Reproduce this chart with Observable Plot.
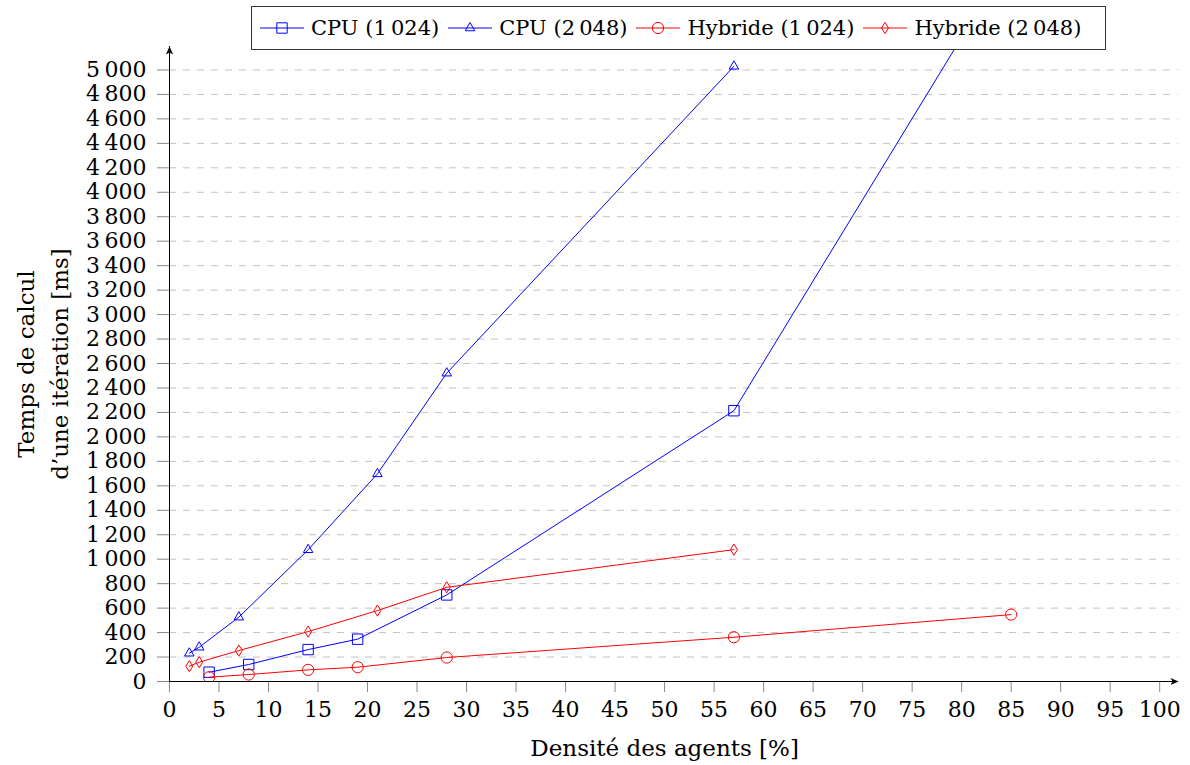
<!DOCTYPE html>
<html>
<head>
<meta charset="utf-8">
<script src="https://cdn.jsdelivr.net/npm/d3@7"></script>
<script src="https://cdn.jsdelivr.net/npm/@observablehq/plot@0.6"></script>
<style>
  body { margin: 0; background: white; }
  #wrap { position: relative; width: 1190px; height: 765px; background: white; font-family: "DejaVu Serif", serif; }
  #legend { position: absolute; left: 251px; top: 6px; width: 845px; height: 42px; border: 1.3px solid #333; background: white;
            display: flex; align-items: center; font-size: 21px; color: black; box-sizing: content-box; }
  .item { display: flex; align-items: center; }
  .item svg { margin-right: 7px; }
  .item span { margin-right: 9px; white-space: nowrap; }
</style>
</head>
<body>
<div id="wrap"><div id="legend"></div></div>
<script>
// ---- data ----
const xTicks = [0, 5, 10, 15, 20, 25, 30, 35, 40, 45, 50, 55, 60, 65, 70, 75, 80, 85, 90, 95, 100];
const yTicks = [0, 200, 400, 600, 800, 1000, 1200, 1400, 1600, 1800, 2000, 2200, 2400, 2600, 2800, 3000,
                3200, 3400, 3600, 3800, 4000, 4200, 4400, 4600, 4800, 5000];

const seriesNames = ["CPU (1\u2009024)", "CPU (2\u2009048)", "Hybride (1\u2009024)", "Hybride (2\u2009048)"];

const densCPU1024 = [4, 8, 14, 19, 28, 57, 85];
const timeCPU1024 = [76, 139, 261, 346, 708, 2214, 5930];
const densCPU2048 = [2, 3, 7, 14, 21, 28, 57];
const timeCPU2048 = [231, 280, 526, 1077, 1698, 2521, 5030];
const densHyb1024 = [4, 8, 14, 19, 28, 57, 85];
const timeHyb1024 = [35, 57, 95, 117, 196, 362, 547];
const densHyb2048 = [2, 3, 7, 14, 21, 28, 57];
const timeHyb2048 = [125, 158, 253, 408, 580, 770, 1078];

const xLabel = "Densité des agents [%]";
const yLabel1 = "Temps de calcul";
const yLabel2 = "d\u2019une itération [ms]";

// ---- symbols ----
const rOf = s => Math.sqrt(s / Math.PI);
const symSquare = { draw(c, s) { const r = rOf(s); c.moveTo(-r, -r); c.lineTo(r, -r); c.lineTo(r, r); c.lineTo(-r, r); c.closePath(); } };
const symTriangle = { draw(c, s) { const r = rOf(s); c.moveTo(0, -r); c.lineTo(0.866 * r, 0.5 * r); c.lineTo(-0.866 * r, 0.5 * r); c.closePath(); } };
const symCircle = { draw(c, s) { const r = rOf(s); c.moveTo(r, 0); c.arc(0, 0, r, 0, 2 * Math.PI); c.closePath(); } };
const symDiamond = { draw(c, s) { const r = rOf(s); c.moveTo(0, -r); c.lineTo(0.62 * r, 0); c.lineTo(0, r); c.lineTo(-0.62 * r, 0); c.closePath(); } };
const symArrow = { draw(c, s) { c.moveTo(0, 0); c.lineTo(3.6, 8); c.lineTo(0, 6); c.lineTo(-3.6, 8); c.closePath(); } };

const series = [
  { name: seriesNames[0], x: densCPU1024, y: timeCPU1024, color: "#0000ff", sym: symSquare, r: 5.2 },
  { name: seriesNames[1], x: densCPU2048, y: timeCPU2048, color: "#0000ff", sym: symTriangle, r: 5.5 },
  { name: seriesNames[2], x: densHyb1024, y: timeHyb1024, color: "#ff0000", sym: symCircle, r: 5.6 },
  { name: seriesNames[3], x: densHyb2048, y: timeHyb2048, color: "#ff0000", sym: symDiamond, r: 5.6 }
];
const rows = s => s.x.map((d, i) => ({ x: d, y: s.y[i] }));

const xMax = 101.9, yMax = 5192;
const fmt = n => n >= 1000 ? `${Math.floor(n / 1000)}\u2009${String(n % 1000).padStart(3, "0")}` : String(n);

const marks = [
  Plot.ruleY(yTicks.filter(d => d > 0), { stroke: "#c2c2c2", strokeWidth: 1, strokeDasharray: "7,7" }),
  Plot.axisX({ ticks: xTicks, tickSize: 11, tickPadding: 9, stroke: "#888", label: null, tickFormat: d => String(d) }),
  Plot.axisY({ ticks: yTicks, tickSize: 12, tickPadding: 11, stroke: "#888", label: null, tickFormat: fmt }),
  Plot.ruleX([0], { y1: 0, y2: yMax, stroke: "black", strokeWidth: 1 }),
  Plot.ruleY([0], { x1: 0, x2: xMax, stroke: "black", strokeWidth: 1 }),
  Plot.dot([{ x: 0, y: yMax }], { x: "x", y: "y", symbol: symArrow, r: 4, fill: "black", stroke: "none" }),
  Plot.dot([{ x: xMax, y: 0 }], { x: "x", y: "y", symbol: symArrow, r: 4, fill: "black", stroke: "none", rotate: 90 })
];
for (const s of series) {
  marks.push(Plot.line(rows(s), { x: "x", y: "y", stroke: s.color, strokeWidth: 1, clip: true }));
  marks.push(Plot.dot(rows(s), { x: "x", y: "y", stroke: s.color, strokeWidth: 1, fill: "none", symbol: s.sym, r: s.r, clip: true }));
}
marks.push(Plot.text([xLabel], { x: 50, frameAnchor: "bottom", lineAnchor: "bottom", dy: 74, fontSize: 23, fill: "black", text: d => d }));
marks.push(Plot.text([yLabel1], { frameAnchor: "left", textAnchor: "middle", rotate: -90, dx: -143, fontSize: 23, fill: "black", text: d => d }));
marks.push(Plot.text([yLabel2], { frameAnchor: "left", textAnchor: "middle", rotate: -90, dx: -109, fontSize: 23, fill: "black", text: d => d }));

const chart = Plot.plot({
  width: 1190, height: 765,
  marginLeft: 169, marginRight: 12, marginTop: 46, marginBottom: 84,
  x: { domain: [0, xMax] },
  y: { domain: [0, yMax] },
  style: { fontFamily: "DejaVu Serif", fontSize: "22px", background: "white", color: "black", overflow: "visible" },
  marks
});
const wrap = document.getElementById("wrap");
wrap.insertBefore(chart, wrap.firstChild);

// ---- legend ----
const legend = document.getElementById("legend");
legend.style.paddingLeft = "8px";
for (const s of series) {
  const item = document.createElement("div");
  item.className = "item";
  const path = d3.symbol(s.sym, Math.PI * s.r * s.r)();
  item.innerHTML = `<svg width="44" height="20" viewBox="0 0 44 20"><line x1="0" y1="10" x2="44" y2="10" stroke="${s.color}" stroke-width="1"/><path transform="translate(22,10)" d="${path}" fill="none" stroke="${s.color}" stroke-width="1"/></svg><span>${s.name}</span>`;
  legend.appendChild(item);
}
</script>
</body>
</html>
